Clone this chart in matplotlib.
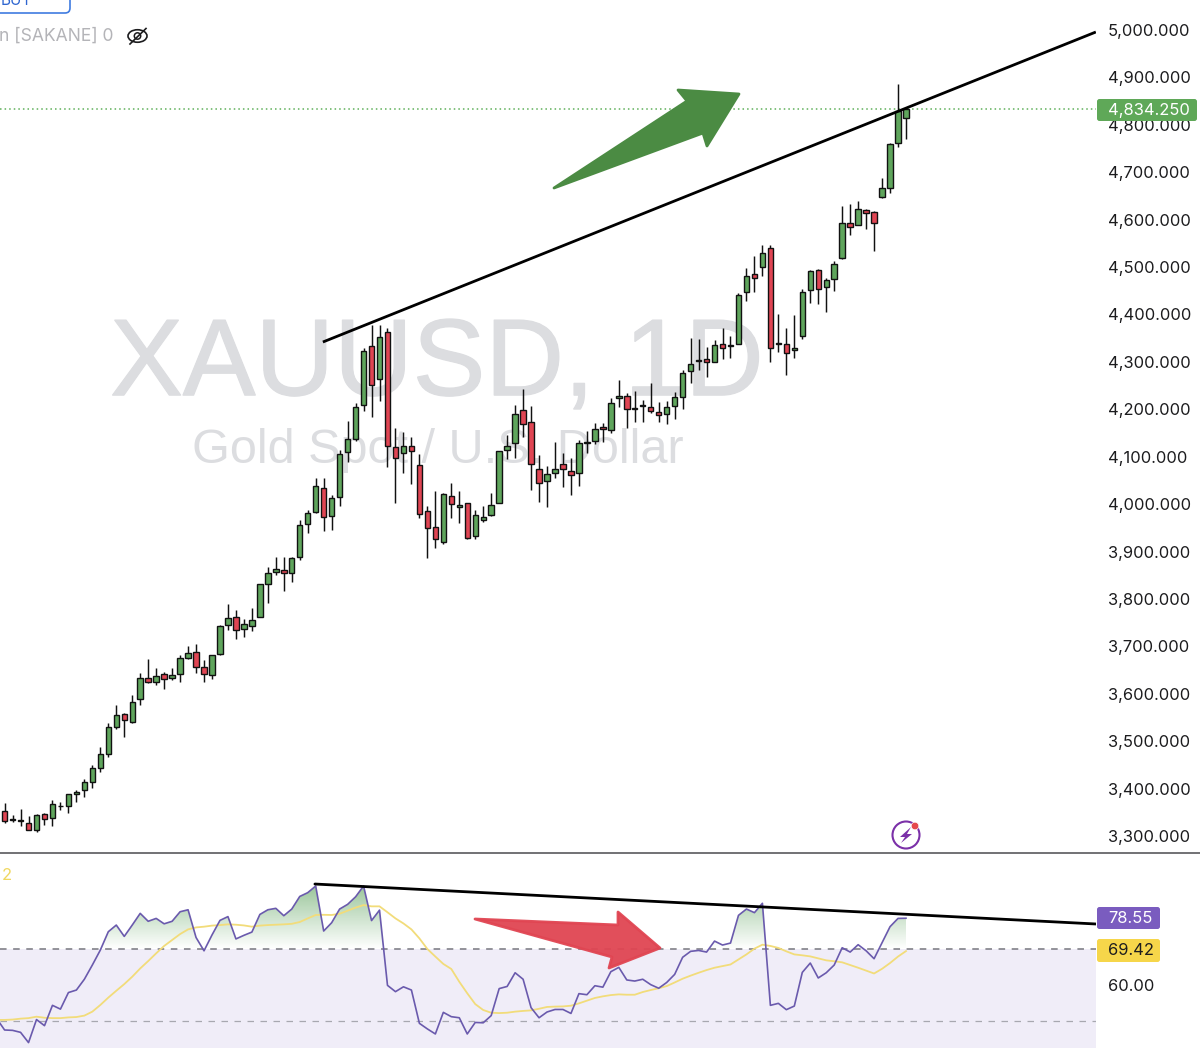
import numpy as np
import matplotlib
matplotlib.use("Agg")
import matplotlib.pyplot as plt
import matplotlib.patheffects as pe
from matplotlib.patches import Polygon, FancyBboxPatch, Circle, Ellipse
from matplotlib.path import Path

# ---------- price data ----------
opens = [3353,3334.5,3332,3328,3313,3347,3337,3362.5,3363,3388,3396,3414.6,3442.7,3473,3529,3556.6,3541,3589.6,3632.5,3624.8,
         3641,3633,3642.3,3675.4,3687.4,3655.7,3639.5,3684.5,3744.3,3761.2,3737.3,3743.6,3762.6,3830.8,3856.8,3860.3,3854,
         3889,3957.3,3983.3,4034,3974.2,4015.7,4109.2,4138,4209,4334.2,4263.9,4363.7,4121.1,4107.8,4122.5,4082.5,3986.2,3952.4,
         3919.4,4017.8,3993.2,4001.6,3933.4,3965.8,3976.3,4003,4113.4,4128.2,4198.5,4173.9,4074.7,4048,4064.9,4083.9,4069.1,
         4064.9,4128.2,4132.4,4163.3,4156.3,4223,4228.7,4199.9,4206.2,4205.5,4195,4189.3,4206.9,4225.2,4280,4301.8,4305.3,4300.4,
         4337,4332.7,4338.4,4447.4,4485.3,4500.8,4539.5,4337.7,4338.4,4324.3,4353.8,4451.6,4494.5,4458.6,4474.1,4519,4593.6,
         4589.4,4621,4615.4,4647.7,4666.7,4760.9,4813.7]
highs = [3370,3344,3356,3342,3346,3348,3376,3372,3389,3396,3419.5,3449,3487,3537.6,3575.6,3560,3597,3643,3672.6,3655,
         3645.9,3653.6,3681,3700.7,3705,3671,3681.7,3744.3,3788.6,3775.9,3757,3780,3831.5,3868,3888.5,3888,3888,
         3966.5,3987.6,4055.8,4054.3,4019.2,4114.1,4176,4214,4328.5,4377.8,4377.8,4372.1,4159.8,4152,4142.2,4105.7,3997,4027.6,
         4024,4043.8,4027.6,4003,3987.6,3997,4024,4112.7,4145.7,4208.3,4242.1,4207.6,4102.9,4080.4,4130.3,4107,4096.5,
         4135.2,4154.9,4170.4,4170.4,4223,4261.8,4233.6,4238.5,4219.6,4256.1,4216,4218.2,4236.4,4282.8,4351,4347.5,4332,4346,
         4370.7,4354.5,4445.9,4497.3,4523.3,4547.2,4545.8,4400.9,4370.7,4399.5,4453,4493.8,4496.6,4476.2,4513.5,4628,4632.3,
         4640,4621.7,4618.9,4687.1,4762.3,4885.4,4836.2]
lows = [3328,3330,3322,3312,3309,3323,3320,3355,3349,3371,3382,3402,3435.6,3467,3525,3509.5,3537.6,3577,3623,3618.4,
        3610,3629,3624,3672.6,3644.5,3625.5,3630.4,3681.7,3734.5,3716.2,3720.4,3731.6,3761.2,3790.7,3850.5,3817.4,3836.4,
        3882.1,3939.7,3980.5,3942.5,3945.4,3996.7,4088.1,4133.8,4197,4184.4,4217.5,4079,4003,4064.9,4041.7,3970,3885.6,3906.7,
        3915.1,3970,3959.4,3927.1,3926.4,3962.2,3974.9,4001.6,4095.1,4096.5,4140.8,4029.7,4005.1,3994.6,4054.3,4036.8,4019.9,
        4038.9,4107,4126,4131.7,4149.3,4204.1,4159.8,4173.9,4172.5,4191.4,4173.9,4169,4179.5,4201.3,4256.1,4282.8,4268.8,4300,
        4306,4307.4,4337.7,4427.7,4446.7,4481.8,4300.4,4321.5,4272.3,4307.4,4347.5,4424.9,4422.8,4405.9,4450.2,4517.7,4568.3,
        4588.7,4579.5,4534.5,4644.9,4656.9,4753.2,4770.1]
closes = [3332,3335.5,3333.6,3313,3344,3336.5,3367,3364,3388.5,3393.5,3414.6,3443.4,3472,3529,3555,3544,3582,3632.5,3624,3636.7,
          3630.4,3640.2,3676,3686,3656.4,3641,3681,3742.9,3759.8,3733.8,3746.4,3755.5,3830.8,3854,3862.4,3854,3886.4,
          3956.6,3980.5,4038.2,3973.5,4012.2,4106.4,4138,4204,4323.6,4251.2,4351.7,4122.5,4096.5,4122.5,4112,3979.1,3950.3,3927.1,
          4021.3,4000.2,3997.4,3928.5,3976.3,3973.5,3997.4,4111.3,4122.5,4190.7,4169.7,4083.9,4043.8,4063.5,4073.3,4074.7,4062.1,
          4129.6,4130.3,4159.1,4157.7,4212.5,4228.7,4201.3,4202.7,4209,4197,4188.6,4204.1,4225.2,4275.8,4296.2,4303.9,4299,4334.9,
          4330,4334.9,4440.3,4480.4,4477.6,4528.9,4329.9,4339.1,4319.4,4329.2,4446.7,4490.9,4454.4,4472.7,4506.4,4593.6,4583.7,
          4622.4,4613.3,4593.6,4666.7,4760.2,4828.4,4834.25]

# RSI and its moving average, first value sits one bar before the first candle
rsi_values = [50.7,47.5,47.4,46.85,44.0,50.4,48.7,54.35,53.3,57.9,58.6,61.6,65.55,69.7,74.8,76.65,73.5,76.65,79.9,77.7,78.5,
              77.0,77.7,80.35,80.9,73.2,69.5,73.9,77.95,79.0,72.8,73.8,74.7,79.6,80.9,81.3,79.25,81.1,84.6,85.65,87.5,
              75.0,77.3,81.1,82.4,84.5,87.5,77.9,80.8,59.9,58.15,59.5,58.6,49.35,47.8,46.4,52.4,51.2,50.9,46.4,49.6,
              49.5,51.5,59.0,59.6,63.4,61.6,53.7,50.9,52.5,53.2,53.2,52.1,57.6,57.3,59.8,59.4,63.7,64.9,61.4,61.1,
              61.6,60.1,59.1,60.7,62.95,67.7,69.35,69.6,69.15,72.2,71.1,71.65,79.35,81.1,80.1,82.7,54.35,54.9,53.15,54.15,
              63.5,66.1,61.95,63.4,65.55,70.35,69.15,71.2,69.5,67.3,71.75,76.2,78.5,78.55]
rsi_ma = [50.3,50.3,50.4,50.65,50.8,51.2,50.9,50.8,50.8,51.0,51.1,51.5,52.6,54.45,56.5,58.4,60.25,62.3,64.6,66.65,68.8,
          70.85,72.5,74.15,75.45,76.0,76.2,76.5,76.65,76.85,76.75,76.55,76.2,76.5,76.65,76.75,76.85,77.0,77.5,78.5,79.45,
          79.5,79.45,79.8,80.65,81.5,82.2,81.85,81.85,80.2,78.5,77.1,75.45,72.95,70.0,67.9,65.85,64.45,60.9,57.7,54.7,
          53.05,52.3,52.2,52.3,52.6,52.8,52.95,53.4,53.9,54.0,54.05,54.25,54.9,55.65,56.4,56.85,57.2,57.4,57.3,57.3,
          58.05,58.6,59.1,59.7,60.7,61.75,62.6,63.4,64.15,64.8,65.25,65.7,67.1,68.5,70.1,71.2,70.85,70.3,69.35,68.5,
          68.25,67.95,67.4,66.85,66.6,66.3,65.55,64.8,64.0,63.2,64.5,66.1,67.9,69.42]

price_ticks = [3300,3400,3500,3600,3700,3800,3900,4000,4100,4200,4300,4400,4500,4600,4700,4800,4900,5000]
last_price = 4834.25
rsi_last, ma_last = 78.55, 69.42
rsi_ticks = [60]
rsi_levels = [70, 50]

# drawn trend lines (bar index, value)
price_trend_x, price_trend_y = [39.9, 136.8], [4341.9, 4995.8]
rsi_trend_x, rsi_trend_y = [38.9, 136.8], [88.05, 76.95]

GREEN, RED = "#5fa55c", "#e04553"
W, H = 1200, 1048
PANE_X, SPLIT = 1096, 853
FONT = "Inter"

fig = plt.figure(figsize=(W/100, H/100), dpi=100, facecolor="white")
ax = fig.add_axes([0, (H-SPLIT)/H, PANE_X/W, SPLIT/H])
axr = fig.add_axes([0, 0, PANE_X/W, (H-SPLIT)/H])
xlim = (-0.577, 136.82)

# ---------- price pane ----------
for a in (ax, axr):
    a.set_xlim(*xlim)
    a.set_xticks([])
    a.yaxis.tick_right()
    for s in a.spines.values():
        s.set_visible(False)
    a.tick_params(axis="y", length=0, pad=8.6, labelsize=11.9, labelcolor="#1c1c1e")
ax.set_ylim(3264.1, 5063.3)
ax.set_yticks(price_ticks)
ax.set_yticklabels([f"{v:,.3f}" for v in price_ticks], fontfamily=FONT)

mark_fx = [pe.withStroke(linewidth=1.0, foreground="#dcdde0")]
ax.text(54.2, 4230, "XAUUSD, 1D", family="Liberation Sans", fontsize=78.4, color="#dcdde0",
        ha="center", va="baseline", zorder=0, path_effects=mark_fx)
ax.text(54.3, 4086.7, "Gold Spot / U.S. Dollar", family="Liberation Sans", fontsize=35, color="#dcdde0",
        ha="center", va="baseline", zorder=0)

idx = np.arange(len(opens))
o, h, l, c = map(np.array, (opens, highs, lows, closes))
up = c >= o
ax.vlines(idx, l, h, color="#111111", lw=1.05, zorder=2)
ax.bar(idx, np.abs(c-o), bottom=np.minimum(o, c), width=0.68,
       color=[GREEN if u else RED for u in up], edgecolor="#111111", linewidth=1.0, zorder=2.5)
ax.axhline(last_price, color="#5fb05a", lw=1.1, ls=(0, (1, 2)), zorder=1.5)
ax.plot(price_trend_x, price_trend_y, color="black", lw=2.0, zorder=4, solid_capstyle="butt")

# ---------- RSI pane ----------
axr.set_ylim(42.5, 96.67)
axr.axhspan(42.5, rsi_levels[0], color="#f0edf8", lw=0, zorder=0)
rx = np.arange(-1, len(rsi_values)-1)
rv = np.array(rsi_values)
fill = axr.fill_between(rx, rsi_levels[0], rv, where=rv >= rsi_levels[0], interpolate=True,
                        facecolor="none", edgecolor="none")
grad = np.zeros((256, 2, 4))
grad[..., 0], grad[..., 1], grad[..., 2] = 0.33, 0.62, 0.33
grad[..., 3] = np.linspace(0.62, 0.0, 256)[:, None]
im = axr.imshow(grad, extent=(xlim[0], xlim[1], 70, 88.5), aspect="auto", origin="upper", zorder=1)
paths = fill.get_paths()
im.set_clip_path(Path.make_compound_path(*paths), transform=axr.transData)
axr.set_xlim(*xlim)
axr.set_ylim(42.5, 96.67)
axr.plot(axr.get_xlim(), [rsi_levels[0]]*2, color="#77777f", lw=1.1, dashes=(4.3, 4.3), zorder=2)
axr.plot(axr.get_xlim(), [rsi_levels[1]]*2, color="#a8a8b0", lw=0.9, dashes=(5.2, 5.2), zorder=2)
axr.plot(rx, rsi_ma, color="#f2dc7a", lw=1.3, zorder=3)
axr.plot(rx, rv, color="#6a5aad", lw=1.2, zorder=3.5)
axr.plot(rsi_trend_x, rsi_trend_y, color="black", lw=2.0, zorder=4, solid_capstyle="round")
axr.set_yticks(rsi_ticks)
axr.set_yticklabels([f"{v:.2f}" for v in rsi_ticks], fontfamily=FONT)

# ---------- overlay in pixel space: drawings, badges, icons ----------
ov = fig.add_axes([0, 0, 1, 1], facecolor="none")
ov.set_xlim(0, W)
ov.set_ylim(H, 0)
ov.axis("off")

ov.plot([0, W], [SPLIT, SPLIT], color="#4a4a4e", lw=1.1)

ov.add_patch(Polygon([(554, 188), (687, 101), (678, 90), (739, 94), (707, 146), (703, 133)],
                     closed=True, facecolor="#4b8b43", edgecolor="#4b8b43", lw=2.0, joinstyle="round"))
ov.add_patch(Polygon([(475, 919), (618, 925), (618, 912), (660, 948), (609, 968), (612, 957)],
                     closed=True, facecolor="#e04552", edgecolor="#e04552", lw=2.0, joinstyle="round", alpha=0.95))

def badge(x0, y0, x1, y1, color, text, tcolor, tx):
    ov.add_patch(FancyBboxPatch((x0+2, y0+2), x1-x0-4, y1-y0-4, boxstyle="round,pad=2,rounding_size=2.5",
                                facecolor=color, edgecolor="none"))
    ov.text(tx, (y0+y1)/2+0.3, text, color=tcolor, family=FONT, fontsize=11.9, ha="left", va="center")

badge(1097, 99, 1197, 121, "#5fa858", f"{last_price:,.3f}", "white", 1108)
badge(1097, 907, 1160, 929, "#7a5cbf", f"{rsi_last:.2f}", "white", 1108)
badge(1097, 939, 1160, 962, "#f6d64a", f"{ma_last:.2f}", "#1c1c1e", 1108)

# cropped order button and legend remnants
ov.add_patch(FancyBboxPatch((-20, -20), 90, 33, boxstyle="round,pad=0,rounding_size=5",
                            facecolor="white", edgecolor="#3f7be0", lw=1.2))
ov.text(1, 5, "BUY", color="#2f66d0", family=FONT, fontsize=11, ha="left", va="baseline")
ov.text(-1, 36, "n [SAKANE] 0", color="#b4b4b8", family=FONT, fontsize=12.6, ha="left", va="center")
ov.text(2, 876, "2", color="#f0d860", family=FONT, fontsize=12, ha="left", va="center")

# eye-off icon
ov.add_patch(Ellipse((137.5, 36), 19, 12.5, facecolor="none", edgecolor="#1c1c1e", lw=1.2))
ov.add_patch(Circle((137.5, 36), 3.2, facecolor="none", edgecolor="#1c1c1e", lw=1.1))
ov.plot([130, 146], [44, 28.5], color="#1c1c1e", lw=1.2)

# lightning icon
ov.add_patch(Circle((906, 835), 13.5, facecolor="white", edgecolor="#7b30a8", lw=1.5))
ov.add_patch(Polygon([(911, 827), (900, 837), (905, 837), (901, 843), (912, 834), (907, 834)],
                     closed=True, facecolor="#7b30a8", edgecolor="none"))
ov.add_patch(Circle((915, 826), 3.8, facecolor="#e5484d", edgecolor="white", lw=0.5))

fig.savefig("out.png", dpi=100, facecolor="white")
